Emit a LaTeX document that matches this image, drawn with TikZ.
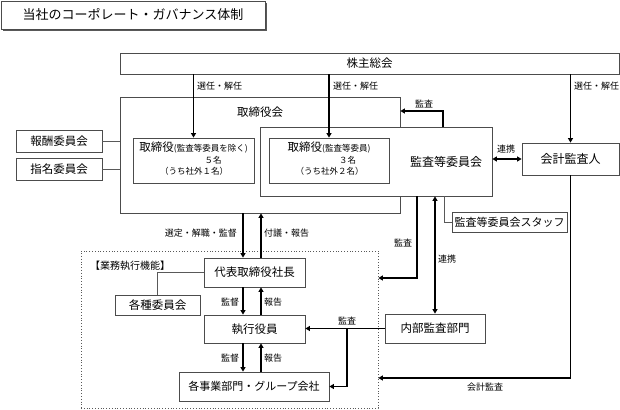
\documentclass[tikz,border=0pt]{standalone}
\usepackage{fontspec}
\setmainfont{Noto Sans CJK JP}
\usetikzlibrary{arrows.meta}
\newcommand\myfs[1]{\fontsize{#1}{#1}\selectfont}
\begin{document}
\begin{tikzpicture}[x=1pt,y=-1pt,
 box/.style={draw=black!70,line width=0.8pt,fill=white,inner sep=0pt,font=\myfs{11.5}},
 thinline/.style={draw=black!65,line width=0.8pt},
 arr/.style={line width=1.6pt,-{Triangle[length=4.5pt,width=5pt]}},
 darr/.style={line width=1.6pt,{Triangle[length=4.5pt,width=5pt]}-{Triangle[length=4.5pt,width=5pt]}},
 lbl/.style={font=\myfs{9},inner sep=0pt},
 txt/.style={inner sep=0pt}]
\useasboundingbox (0,0) rectangle (620,409);

% title
\draw[black!65,line width=1.3pt] (266.2,3) -- (266.2,30.2) -- (3,30.2);
\node[box,minimum width=264pt,minimum height=28pt,font=\myfs{13}] (title) at (133,15) {当社のコーポレート・ガバナンス体制};

% shareholders
\node[box,minimum width=499pt,minimum height=21pt] (sh) at (369.5,63.5) {株主総会};

% board
\node[box,minimum width=280pt,minimum height=116pt] (board) at (260,155) {};
\node[txt,font=\myfs{11.5}] (boardt) at (260,112) {取締役会};
\node[box,minimum width=232pt,minimum height=69pt] (ac) at (376,161.5) {};
\node[txt,font=\myfs{12}] (act) at (446,162) {監査等委員会};

\node[box,minimum width=121pt,minimum height=45pt] (d1) at (193.5,160.5) {};
\node[txt] (d1a) at (193.5,148) {\myfs{11.5}取締役\myfs{8.5}(監査等委員を除く)};
\node[txt,font=\myfs{8.5}] (d1b) at (213,160) {５名};
\node[txt,font=\myfs{8.5}] (d1c) at (194,171) {（うち社外１名）};

\node[box,minimum width=120pt,minimum height=45pt] (d2) at (329,160.5) {};
\node[txt] (d2a) at (329,148) {\myfs{11.5}取締役\myfs{8.5}(監査等委員)};
\node[txt,font=\myfs{8.5}] (d2b) at (347.5,160) {３名};
\node[txt,font=\myfs{8.5}] (d2c) at (329.5,171) {（うち社外２名）};

% auditor
\node[box,minimum width=97pt,minimum height=32pt,font=\myfs{12}] (aud) at (570.5,159) {会計監査人};

% committees
\node[box,minimum width=86pt,minimum height=22pt] (comp) at (59,141) {報酬委員会};
\node[box,minimum width=86pt,minimum height=22pt] (nom) at (59,169) {指名委員会};

% staff
\node[box,minimum width=115pt,minimum height=20pt,font=\myfs{11}] (staff) at (509.5,222) {監査等委員会スタッフ};

% execution
\node[draw=black!65,dotted,line width=0.8pt,minimum width=297pt,minimum height=157pt,inner sep=0pt] (exec) at (229.5,329.5) {};
\node[txt,font=\myfs{10},anchor=west] (exect) at (90,266) {【業務執行機能】};
\node[box,minimum width=101pt,minimum height=29pt] (ceo) at (254.5,272.5) {代表取締役社長};
\node[box,minimum width=85pt,minimum height=20pt] (comm) at (157.5,305) {各種委員会};
\node[box,minimum width=101pt,minimum height=28pt] (off) at (254.5,329) {執行役員};
\node[box,minimum width=150pt,minimum height=29pt,font=\myfs{11}] (div) at (254,386.5) {各事業部門・グループ会社};
\node[box,minimum width=100pt,minimum height=29pt] (ia) at (435,328.5) {内部監査部門};

% helper coordinates
\coordinate (xL) at (243,0);
\coordinate (xR) at (261,0);
\coordinate (xB) at (347,0);
\coordinate (xM) at (443,0);
\coordinate (xS) at (444,0);
\coordinate (xA) at (417,0);
\coordinate (yM) at (0,111);
\coordinate (yA) at (0,278);
\coordinate (yK) at (0,378);

% connectors
\draw[arr] (sh.south -| d1.north) -- (d1.north);
\draw[arr] (sh.south -| d2.north) -- (d2.north);
\draw[arr] (sh.south -| aud.north) -- (aud.north);
\draw[arr] (ac.north -| xM) |- (board.east |- yM);
\draw[darr] (ac.east |- aud.west) -- (aud.west);
\draw[arr] (aud.south) |- (exec.east |- yK);
\draw[arr] (ac.south -| xA) |- (exec.east |- yA);
\draw[darr] (ac.south -| ia.north) -- (ia.north);
\draw[thinline] (ac.south -| xS) |- (staff.west);
\draw[thinline] (comp.east) -- (comp.east -| board.west);
\draw[thinline] (nom.east) -- (nom.east -| board.west);
\draw[thinline] (ceo.west) -| (comm.north);

\draw[arr] (board.south -| xL) -- (ceo.north -| xL);
\draw[arr] (ceo.north -| xR) -- (board.south -| xR);
\draw[arr] (ceo.south -| xL) -- (off.north -| xL);
\draw[arr] (off.north -| xR) -- (ceo.south -| xR);
\draw[arr] (off.south -| xL) -- (div.north -| xL);
\draw[arr] (div.north -| xR) -- (off.south -| xR);
\draw[arr] (ia.west) -- (off.east |- ia.west);
\draw[arr] (ia.west -| xB) |- (div.east);

% labels
\node[lbl,anchor=west] at (197,86) {選任・解任};
\node[lbl,anchor=west] at (333,86) {選任・解任};
\node[lbl,anchor=west] at (574,86) {選任・解任};
\node[lbl] at (424,104) {監査};
\node[lbl] at (506,149) {連携};
\node[lbl,anchor=east] at (237,233) {選定・解職・監督};
\node[lbl,anchor=west] at (264,233) {付議・報告};
\node[lbl] at (403,243) {監査};
\node[lbl] at (447,259) {連携};
\node[lbl] at (230,302) {監督};
\node[lbl] at (230,358) {監督};
\node[lbl] at (273,302) {報告};
\node[lbl] at (273,358) {報告};
\node[lbl] at (347,321) {監査};
\node[lbl] at (485,387) {会計監査};
\end{tikzpicture}
\end{document}
